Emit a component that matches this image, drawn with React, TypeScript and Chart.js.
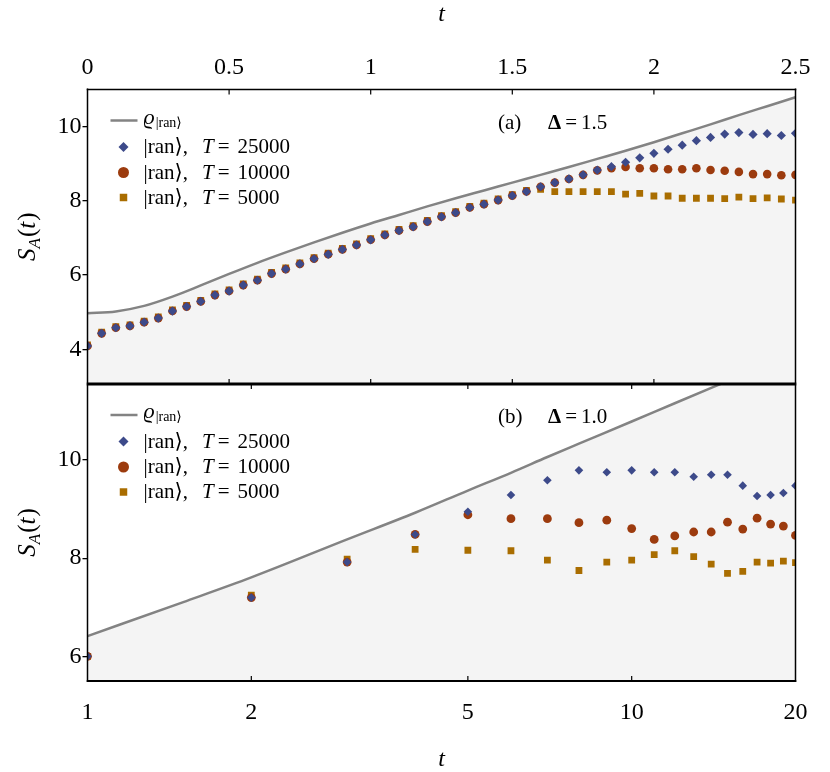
import React, { useEffect, useRef } from 'react';
import { Chart, registerables } from 'chart.js';

Chart.register(...registerables);

const FONT = "'Liberation Serif', 'DejaVu Serif', serif";

// ---------- Panel (a): Δ = 1.5, linear t axis ----------
const tA = [0, 0.05, 0.1, 0.15, 0.2, 0.25, 0.3, 0.35, 0.4, 0.45, 0.5, 0.55, 0.6, 0.65, 0.7, 0.75, 0.8, 0.85, 0.9, 0.95, 1, 1.05, 1.1, 1.15, 1.2, 1.25, 1.3, 1.35, 1.4, 1.45, 1.5, 1.55, 1.6, 1.65, 1.7, 1.75, 1.8, 1.85, 1.9, 1.95, 2, 2.05, 2.1, 2.15, 2.2, 2.25, 2.3, 2.35, 2.4, 2.45, 2.5];
const sA25000 = [4.09, 4.43, 4.58, 4.63, 4.73, 4.84, 5.03, 5.15, 5.29, 5.46, 5.57, 5.73, 5.86, 6.04, 6.16, 6.30, 6.44, 6.56, 6.69, 6.81, 6.95, 7.08, 7.20, 7.30, 7.44, 7.57, 7.68, 7.82, 7.91, 8.02, 8.14, 8.25, 8.38, 8.49, 8.59, 8.70, 8.83, 8.92, 9.04, 9.16, 9.28, 9.39, 9.50, 9.62, 9.71, 9.80, 9.84, 9.79, 9.81, 9.76, 9.82];
const sA10000 = [4.09, 4.43, 4.58, 4.63, 4.73, 4.84, 5.03, 5.15, 5.29, 5.46, 5.57, 5.73, 5.86, 6.04, 6.16, 6.30, 6.44, 6.56, 6.69, 6.81, 6.95, 7.08, 7.20, 7.30, 7.44, 7.57, 7.68, 7.82, 7.91, 8.02, 8.14, 8.25, 8.38, 8.49, 8.59, 8.70, 8.82, 8.88, 8.91, 8.88, 8.88, 8.85, 8.85, 8.88, 8.83, 8.81, 8.78, 8.72, 8.72, 8.69, 8.70];
const sA5000 = [4.12, 4.46, 4.61, 4.66, 4.76, 4.87, 5.06, 5.18, 5.32, 5.49, 5.60, 5.76, 5.89, 6.07, 6.19, 6.33, 6.47, 6.59, 6.72, 6.84, 6.98, 7.11, 7.23, 7.33, 7.47, 7.60, 7.71, 7.85, 7.94, 8.05, 8.17, 8.28, 8.31, 8.25, 8.25, 8.25, 8.25, 8.25, 8.18, 8.20, 8.13, 8.13, 8.07, 8.07, 8.07, 8.06, 8.10, 8.06, 8.08, 8.05, 8.02];
const curveTA = [0, 0.1, 0.2, 0.3, 0.4, 0.5, 0.6, 0.7, 0.8, 0.9, 1, 1.1, 1.2, 1.3, 1.4, 1.5, 1.6, 1.7, 1.8, 1.9, 2, 2.1, 2.2, 2.3, 2.4, 2.5];
const curveA = [4.97, 5.02, 5.17, 5.42, 5.72, 6.03, 6.33, 6.61, 6.88, 7.14, 7.39, 7.62, 7.85, 8.07, 8.28, 8.49, 8.70, 8.91, 9.13, 9.35, 9.58, 9.82, 10.06, 10.31, 10.55, 10.79];
const xTicksA = [0, 0.5, 1, 1.5, 2, 2.5];
const yTicksA = [4, 6, 8, 10];

// ---------- Panel (b): Δ = 1.0, logarithmic t axis ----------
const tB = [1, 2, 3, 4, 5, 6, 7, 8, 9, 10, 11, 12, 13, 14, 15, 16, 17, 18, 19, 20];
const sB25000 = [6.01, 7.20, 7.92, 8.48, 8.94, 9.28, 9.58, 9.78, 9.74, 9.78, 9.74, 9.74, 9.65, 9.69, 9.69, 9.47, 9.26, 9.28, 9.32, 9.47];
const sB10000 = [6.01, 7.20, 7.92, 8.48, 8.88, 8.80, 8.80, 8.72, 8.77, 8.60, 8.38, 8.45, 8.53, 8.53, 8.73, 8.59, 8.81, 8.69, 8.65, 8.46];
const sB5000 = [6.01, 7.25, 7.98, 8.18, 8.16, 8.15, 7.96, 7.75, 7.92, 7.96, 8.07, 8.15, 8.03, 7.88, 7.69, 7.73, 7.92, 7.90, 7.94, 7.91];
const curveTB = [1, 1.5, 2, 3, 4, 5, 6, 7, 8, 10, 12, 15, 20];
const curveB = [6.42, 7.11, 7.61, 8.38, 8.92, 9.37, 9.73, 10.05, 10.32, 10.77, 11.14, 11.59, 12.17];
const xTicksB = [1, 2, 5, 10, 20];
const yTicksB = [6, 8, 10];

// ---------- labels ----------
const curveLabel = 'ϱ|ran⟩';
const seriesT = ['25000', '10000', '5000'];
const seriesLabels = seriesT.map((v) => `|ran⟩, T = ${v}`);

const GRAY = '#838383';
const FILL = '#f4f4f4';
const BLUE = '#3d4a8a';
const RUST = '#9c3b0e';
const GOLD = '#a96d00';

type Panel = {
  tag: string;
  delta: string;
  t: number[];
  s25: number[];
  s10: number[];
  s5: number[];
  ct: number[];
  c: number[];
  xType: 'linear' | 'logarithmic';
  xPos: 'top' | 'bottom';
  xMin: number;
  xMax: number;
  xTicks: number[];
  yMin: number;
  yMax: number;
  yTicks: number[];
  xAxisH: number;
  xPad: number;
  titlePad: { top: number; bottom: number };
  isTop: boolean;
  r: [number, number, number];
};

const panelA: Panel = {
  tag: '(a)', delta: '1.5', t: tA, s25: sA25000, s10: sA10000, s5: sA5000, ct: curveTA, c: curveA,
  xType: 'linear', xPos: 'top', xMin: 0, xMax: 2.5, xTicks: xTicksA, yMin: 3.065, yMax: 11.0, yTicks: yTicksA,
  xAxisH: 89.5, xPad: 7, titlePad: { top: 0, bottom: 0 }, isTop: true, r: [4.6, 4.3, 4.8],
};
const panelB: Panel = {
  tag: '(b)', delta: '1.0', t: tB, s25: sB25000, s10: sB10000, s5: sB5000, ct: curveTB, c: curveB,
  xType: 'logarithmic', xPos: 'bottom', xMin: 1, xMax: 20, xTicks: xTicksB, yMin: 5.51, yMax: 11.53, yTicks: yTicksB,
  xAxisH: 91, xPad: 17, titlePad: { top: 0, bottom: -2 }, isTop: false, r: [4.3, 4.4, 4.8],
};

type Seg = { text: string; font: string; dx?: number; dy?: number };

function segWidth(ctx: CanvasRenderingContext2D, segs: Seg[]) {
  let w = 0;
  for (const s of segs) {
    ctx.font = s.font;
    w += (s.dx || 0) + ctx.measureText(s.text).width;
  }
  return w;
}
function drawSegs(ctx: CanvasRenderingContext2D, segs: Seg[], x: number, y: number) {
  let cx = x;
  for (const s of segs) {
    cx += s.dx || 0;
    ctx.font = s.font;
    ctx.fillText(s.text, cx, y + (s.dy || 0));
    cx += ctx.measureText(s.text).width;
  }
}
function drawMarker(ctx: CanvasRenderingContext2D, style: string, x: number, y: number, r: number, color: string) {
  ctx.fillStyle = color;
  ctx.beginPath();
  if (style === 'rectRot') {
    ctx.moveTo(x - r, y);
    ctx.lineTo(x, y - r);
    ctx.lineTo(x + r, y);
    ctx.lineTo(x, y + r);
    ctx.closePath();
  } else if (style === 'circle') {
    ctx.arc(x, y, r, 0, Math.PI * 2);
  } else {
    const h = r * Math.SQRT1_2;
    ctx.rect(x - h, y - h, 2 * h, 2 * h);
  }
  ctx.fill();
}

function decorPlugin(p: Panel) {
  return {
    id: 'panelDecor',
    afterDraw(chart: any) {
      const ctx: CanvasRenderingContext2D = chart.ctx;
      const { left, top, right, bottom } = chart.chartArea;
      const xs = chart.scales.x;
      ctx.save();
      // frame
      ctx.strokeStyle = '#000';
      ctx.lineWidth = 1.5;
      ctx.beginPath();
      ctx.moveTo(left, top - 1);
      ctx.lineTo(left, bottom + 1);
      ctx.moveTo(right, top - 1);
      ctx.lineTo(right, bottom + 1);
      ctx.stroke();
      ctx.beginPath();
      if (p.isTop) {
        ctx.lineWidth = 1.5;
        ctx.moveTo(left - 0.75, top);
        ctx.lineTo(right + 0.75, top);
        ctx.stroke();
        ctx.beginPath();
        ctx.lineWidth = 1.6;
        ctx.moveTo(left - 0.75, bottom - 0.8);
        ctx.lineTo(right + 0.75, bottom - 0.8);
        ctx.stroke();
      } else {
        ctx.lineWidth = 1.6;
        ctx.moveTo(left - 0.75, top + 0.8);
        ctx.lineTo(right + 0.75, top + 0.8);
        ctx.stroke();
        ctx.beginPath();
        ctx.lineWidth = 2;
        ctx.moveTo(left - 0.75, bottom);
        ctx.lineTo(right + 0.75, bottom);
        ctx.stroke();
      }
      // inward ticks on horizontal edges
      ctx.lineWidth = 1.2;
      ctx.beginPath();
      for (const v of p.xTicks.slice(1, -1)) {
        const px = xs.getPixelForValue(v);
        ctx.moveTo(px, top);
        ctx.lineTo(px, top + 5);
        ctx.moveTo(px, bottom);
        ctx.lineTo(px, bottom - 5);
      }
      ctx.stroke();

      // legend
      const ds = chart.data.datasets;
      const rows = [31, 57.5, 83, 108].map((o) => top + o);
      const mx = left + 36;
      const tx = left + 56;
      ctx.textBaseline = 'alphabetic';
      ctx.textAlign = 'left';
      ctx.strokeStyle = ds[0].borderColor;
      ctx.lineWidth = 2.5;
      ctx.beginPath();
      ctx.moveTo(left + 23, rows[0]);
      ctx.lineTo(left + 50, rows[0]);
      ctx.stroke();
      ctx.fillStyle = '#000';
      drawSegs(ctx, [
        { text: 'ϱ', font: `italic 22px ${FONT}` },
        { text: '|ran⟩', font: `14px ${FONT}`, dx: 1, dy: 3 },
      ], tx, rows[0] + 3);
      const styles = ['rectRot', 'circle', 'rect'];
      const lr = [5, 5.5, 5.3];
      for (let i = 0; i < 3; i++) {
        const d = ds[i + 1];
        drawMarker(ctx, styles[i], mx, rows[i + 1], lr[i], d.pointBackgroundColor);
        ctx.fillStyle = '#000';
        drawSegs(ctx, [
          { text: '|ran⟩,', font: `21px ${FONT}` },
          { text: 'T', font: `italic 21px ${FONT}`, dx: 14 },
          { text: '=', font: `21px ${FONT}`, dx: 4 },
          { text: seriesT[i], font: `21px ${FONT}`, dx: 8 },
        ], tx, rows[i + 1] + 6);
      }

      // panel annotation
      ctx.fillStyle = '#000';
      const ay = top + 39;
      ctx.font = `21px ${FONT}`;
      ctx.fillText(p.tag, left + 410.5, ay);
      drawSegs(ctx, [
        { text: 'Δ', font: `bold 21px ${FONT}` },
        { text: '=', font: `21px ${FONT}`, dx: 4 },
        { text: p.delta, font: `21px ${FONT}`, dx: 4 },
      ], left + 460.5, ay);

      // y-axis title S_A(t)
      const ysegs: Seg[] = [
        { text: 'S', font: `italic 25px ${FONT}` },
        { text: 'A', font: `italic 17px ${FONT}`, dy: 5 },
        { text: '(', font: `25px ${FONT}`, dx: 1 },
        { text: 't', font: `italic 25px ${FONT}` },
        { text: ')', font: `25px ${FONT}`, dx: 1 },
      ];
      ctx.translate(29, (top + bottom) / 2);
      ctx.rotate(-Math.PI / 2);
      const w = segWidth(ctx, ysegs);
      drawSegs(ctx, ysegs, -w / 2, 6);
      ctx.restore();
    },
  };
}

function makeConfig(p: Panel): any {
  const toXY = (xs: number[], ys: number[]) => xs.map((x, i) => ({ x, y: ys[i] }));
  const tickFont = { family: FONT, size: 24 };
  const pts = (label: string, data: number[], style: string, r: number, color: string, order: number) => ({
    label,
    data: toXY(p.t, data),
    showLine: false,
    pointStyle: style,
    pointRadius: r,
    pointHoverRadius: r,
    pointBackgroundColor: color,
    pointBorderColor: color,
    pointBorderWidth: 0,
    backgroundColor: color,
    borderColor: color,
    order,
    clip: 0,
  });
  return {
    type: 'line',
    data: {
      datasets: [
        {
          label: curveLabel,
          data: toXY(p.ct, p.c),
          borderColor: GRAY,
          borderWidth: 2.5,
          pointRadius: 0,
          pointHoverRadius: 0,
          fill: 'start',
          backgroundColor: FILL,
          cubicInterpolationMode: 'monotone',
          order: 4,
          clip: 0,
        },
        pts(seriesLabels[0], p.s25, 'rectRot', p.r[0], BLUE, 1),
        pts(seriesLabels[1], p.s10, 'circle', p.r[1], RUST, 2),
        pts(seriesLabels[2], p.s5, 'rect', p.r[2], GOLD, 3),
      ],
    },
    options: {
      animation: false,
      responsive: false,
      maintainAspectRatio: false,
      events: [],
      layout: { autoPadding: false, padding: { left: 0, right: 34.5, top: 0, bottom: 0 } },
      plugins: { legend: { display: false }, tooltip: { enabled: false } },
      scales: {
        x: {
          type: p.xType,
          position: p.xPos,
          min: p.xMin,
          max: p.xMax,
          afterBuildTicks: (s: any) => {
            s.ticks = p.xTicks.map((v) => ({ value: v }));
          },
          afterFit: (s: any) => {
            s.height = p.xAxisH;
            s.paddingLeft = 0;
            s.paddingRight = 0;
          },
          grid: { display: false, drawTicks: false },
          border: { display: false },
          ticks: {
            font: tickFont,
            color: '#000',
            padding: p.xPad,
            autoSkip: false,
            maxRotation: 0,
            callback: (v: any) => String(v),
          },
          title: {
            display: true,
            text: 't',
            color: '#000',
            font: { family: FONT, size: 24, style: 'italic' },
            padding: p.titlePad,
          },
        },
        y: {
          type: 'linear',
          min: p.yMin,
          max: p.yMax,
          afterBuildTicks: (s: any) => {
            s.ticks = p.yTicks.map((v) => ({ value: v }));
          },
          afterFit: (s: any) => {
            s.width = 87.5;
            s.paddingTop = 0;
            s.paddingBottom = 0;
          },
          grid: { display: true, drawOnChartArea: false, drawTicks: true, tickLength: 5, color: '#000', lineWidth: 1.3 },
          border: { display: false },
          ticks: { font: tickFont, color: '#000', padding: 1, callback: (v: any) => String(v) },
        },
      },
    },
    plugins: [decorPlugin(p)],
  };
}

export default function App() {
  const topRef = useRef<HTMLCanvasElement>(null);
  const botRef = useRef<HTMLCanvasElement>(null);
  useEffect(() => {
    const c1 = new Chart(topRef.current as HTMLCanvasElement, makeConfig(panelA));
    const c2 = new Chart(botRef.current as HTMLCanvasElement, makeConfig(panelB));
    return () => {
      c1.destroy();
      c2.destroy();
    };
  }, []);
  return (
    <div style={{ position: 'absolute', left: 0, top: 0, width: 830, height: 772, background: '#fff' }}>
      <canvas ref={topRef} width={830} height={384} style={{ position: 'absolute', left: 0, top: 0, width: 830, height: 384 }} />
      <canvas ref={botRef} width={830} height={388} style={{ position: 'absolute', left: 0, top: 384, width: 830, height: 388 }} />
    </div>
  );
}
